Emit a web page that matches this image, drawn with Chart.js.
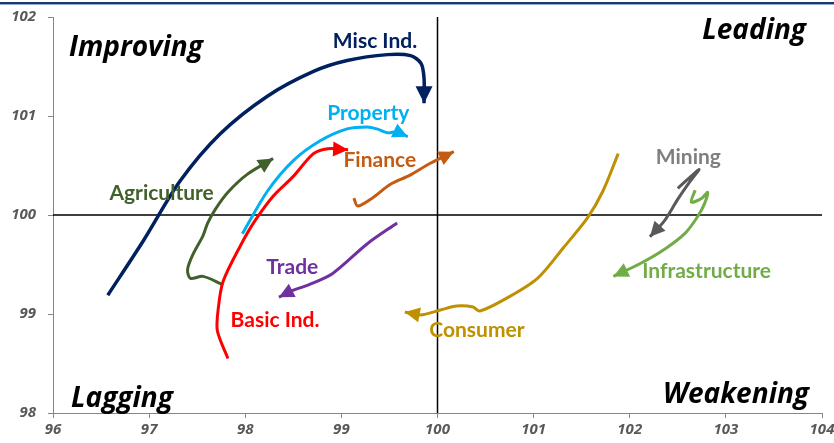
<!DOCTYPE html>
<html>
<head>
<meta charset="utf-8">
<script src="https://cdn.jsdelivr.net/npm/chart.js@4.4.1/dist/chart.umd.min.js"></script>
<style>
  html, body { margin: 0; padding: 0; background: #fff; }
  canvas { display: block; }
</style>
</head>
<body>
<canvas id="rrg" width="834" height="443"></canvas>
<script>
// axis ranges
const xTicks = [96, 97, 98, 99, 100, 101, 102, 103, 104];
const yTicks = [98, 99, 100, 101, 102];

// sector trails [relative strength, momentum], last point = arrow tip
const miscInd = [[96.57,99.19],[96.94,99.74],[97.32,100.34],[97.74,100.82],[98.23,101.20],[98.71,101.45],
  [99.06,101.56],[99.48,101.62],[99.72,101.61],[99.83,101.53],[99.86,101.38],[99.86,101.13]];
const property = [[97.97,99.81],[98.23,100.24],[98.50,100.55],[98.78,100.75],[99.06,100.87],[99.27,100.89],
  [99.37,100.87],[99.48,100.83],[99.58,100.84],[99.69,100.79]];
const basicInd = [[97.82,98.55],[97.71,98.83],[97.72,99.06],[97.77,99.33],[97.95,99.69],[98.10,99.94],
  [98.29,100.19],[98.50,100.39],[98.71,100.62],[98.86,100.67],[99.07,100.66]];
const agriculture = [[97.76,99.30],[97.56,99.38],[97.43,99.36],[97.40,99.45],[97.46,99.61],[97.56,99.79],
  [97.61,99.92],[97.69,100.06],[97.82,100.23],[98.02,100.41],[98.29,100.57]];
const finance = [[99.13,100.17],[99.17,100.09],[99.32,100.17],[99.51,100.31],[99.71,100.40],[99.92,100.52],[100.17,100.64]];
const trade = [[99.58,99.92],[99.27,99.71],[98.91,99.41],[98.67,99.30],[98.47,99.23],[98.35,99.17]];
const consumer = [[101.88,100.62],[101.72,100.24],[101.56,99.97],[101.31,99.67],[101.04,99.36],[100.72,99.16],
  [100.44,99.03],[100.37,99.07],[100.20,99.08],[100.03,99.04],[99.82,98.99],[99.66,99.02]];
const mining = [[102.50,100.27],[102.72,100.46],[102.62,100.33],[102.50,100.16],[102.36,99.94],[102.21,99.78]];
const infrastructure = [[102.68,100.25],[102.64,100.13],[102.75,100.17],[102.81,100.23],[102.78,100.12],
  [102.71,99.99],[102.58,99.82],[102.37,99.66],[102.11,99.51],[101.83,99.38]];

const sectorNames = ['Misc Ind.', 'Property', 'Basic Ind.', 'Agriculture', 'Finance', 'Trade', 'Consumer', 'Mining', 'Infrastructure'];
const sectorTrails = [miscInd, property, basicInd, agriculture, finance, trade, consumer, mining, infrastructure];

// where each name sits (chart units)
const nameX = [99.35, 99.28, 98.31, 97.13, 99.40, 98.49, 100.41, 102.61, 102.80];
const nameY = [101.76, 101.03, 98.94, 100.22, 100.55, 99.47, 98.84, 100.58, 99.43];

const lineColors = ['#002060', '#00B0F0', '#FF0000', '#41612A', '#C55A11', '#7030A0', '#BF9000', '#595959', '#70AD47'];
const nameColors = ['#002060', '#00B0F0', '#FF0000', '#41612A', '#C55A11', '#7030A0', '#BF9000', '#7F7F7F', '#70AD47'];

const FONT = 'Lato, "Open Sans", sans-serif';
const HEAVY = '"Open Sans", Lato, sans-serif';

// crosshair at 100/100 + top rule
const crossPlugin = {
  id: 'cross',
  beforeDatasetsDraw(chart) {
    const { ctx, chartArea, scales } = chart;
    const cx = scales.x.getPixelForValue(100);
    const cy = scales.y.getPixelForValue(100);
    ctx.save();
    ctx.strokeStyle = '#000';
    ctx.lineWidth = 1.5;
    ctx.beginPath();
    ctx.moveTo(cx, chartArea.top);
    ctx.lineTo(cx, chartArea.bottom);
    ctx.moveTo(chartArea.left, cy);
    ctx.lineTo(chartArea.right, cy);
    ctx.stroke();

    ctx.fillStyle = '#1F3864';
    ctx.fillRect(0, 2, chart.width, 2);
    ctx.fillStyle = '#8EA9DB';
    ctx.fillRect(0, 4, chart.width, 1);
    ctx.restore();
  }
};

// arrowheads, sector names and quadrant names
const labelPlugin = {
  id: 'rrgLabels',
  afterDatasetsDraw(chart) {
    const { ctx, chartArea, scales } = chart;
    ctx.save();
    chart.data.datasets.forEach((ds, i) => {
      const meta = chart.getDatasetMeta(i);
      const last = meta.data[meta.data.length - 1];
      const prev = meta.data[meta.data.length - 2];
      const x1 = last.x, y1 = last.y;
      // tangent of the curve at its end
      const x0 = last.cp1x !== undefined ? last.cp1x : prev.x;
      const y0 = last.cp1y !== undefined ? last.cp1y : prev.y;
      const a = Math.atan2(y1 - y0, x1 - x0);
      const len = i === 0 ? 17 : 15, half = i === 0 ? 8.5 : 7.5;
      const bx = x1 - len * Math.cos(a), by = y1 - len * Math.sin(a);
      ctx.fillStyle = ds.borderColor;
      ctx.beginPath();
      ctx.moveTo(x1, y1);
      ctx.lineTo(bx + half * Math.sin(a), by - half * Math.cos(a));
      ctx.lineTo(bx - half * Math.sin(a), by + half * Math.cos(a));
      ctx.closePath();
      ctx.fill();
    });

    ctx.font = 'bold 21px ' + FONT;
    ctx.textAlign = 'center';
    ctx.textBaseline = 'middle';
    sectorNames.forEach((n, i) => {
      ctx.fillStyle = nameColors[i];
      ctx.fillText(n, scales.x.getPixelForValue(nameX[i]), scales.y.getPixelForValue(nameY[i]));
    });

    ctx.fillStyle = '#000';
    ctx.font = 'italic bold 28px ' + HEAVY;
    ctx.textAlign = 'left';
    ctx.fillText('Improving', chartArea.left + 16, chartArea.top + 31);
    ctx.fillText('Lagging', chartArea.left + 18, chartArea.bottom - 14);
    ctx.textAlign = 'right';
    ctx.fillText('Leading', chartArea.right - 16, chartArea.top + 14);
    ctx.fillText('Weakening', chartArea.right - 13, chartArea.bottom - 18);
    ctx.restore();
  }
};

const datasets = sectorTrails.map((trail, i) => ({
  label: sectorNames[i],
  data: trail.map(p => ({ x: p[0], y: p[1] })),
  showLine: true,
  borderColor: lineColors[i],
  borderWidth: i === 0 ? 3.5 : 3,
  tension: 0.3,
  pointRadius: 0,
  fill: false
}));

const tickFont = { family: HEAVY, size: 15, style: 'italic', weight: 'bold' };

new Chart(document.getElementById('rrg'), {
  type: 'scatter',
  data: { datasets },
  options: {
    responsive: false,
    animation: false,
    layout: { padding: { top: 17, right: 12, left: 0, bottom: 0 } },
    scales: {
      x: {
        min: xTicks[0],
        max: xTicks[xTicks.length - 1],
        afterBuildTicks: s => { s.ticks = xTicks.map(v => ({ value: v })); },
        afterFit: s => { s.height = 30; s.paddingLeft = 0; s.paddingRight = 0; },
        ticks: { color: '#595959', font: tickFont, padding: 3, maxRotation: 0 },
        grid: { drawOnChartArea: false, tickLength: 5, color: '#868686' },
        border: { color: '#868686' }
      },
      y: {
        min: yTicks[0],
        max: yTicks[yTicks.length - 1],
        afterBuildTicks: s => { s.ticks = yTicks.map(v => ({ value: v })); },
        afterFit: s => { s.width = 53; s.paddingTop = 0; s.paddingBottom = 0; },
        ticks: { color: '#595959', font: tickFont, padding: 12 },
        grid: { drawOnChartArea: false, tickLength: 5, color: '#868686' },
        border: { color: '#868686' }
      }
    },
    plugins: {
      legend: { display: false },
      tooltip: { enabled: false }
    }
  },
  plugins: [crossPlugin, labelPlugin]
});
</script>
</body>
</html>
